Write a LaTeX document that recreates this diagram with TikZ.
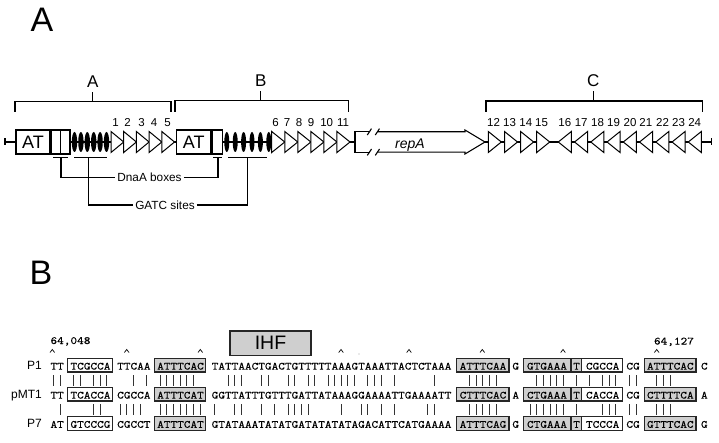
\documentclass[tikz,border=0pt]{standalone}
\usepackage{fontspec}
\newfontfamily\arial{Liberation Sans}
\newfontfamily\seqf{lmmono10-regular.otf}[FakeStretch=1.153,FakeBold=0.3]
\newcommand\seqbars[4]{\foreach \k in {#4}{\pgfmathsetmacro\bx{#1+(\k-0.5)*6.657}\draw[bar] (\bx,#2) -- (\bx,#3);}}
\newcommand\rowboxes[2]{%
 \draw[wbox] (67.7,#1) rectangle (112.7,#2);
 \draw[gbox] (154.5,#1) rectangle (205.7,#2);
 \draw[gbox] (456.7,#1) rectangle (509,#2);
 \draw[gbox] (523.3,#1) rectangle (571,#2);
 \draw[gbox] (571,#1) rectangle (581.7,#2);
 \draw[wbox] (581.7,#1) rectangle (622.7,#2);
 \draw[gbox] (644.3,#1) rectangle (696,#2);}
\begin{document}
\begin{tikzpicture}[x=1pt,y=-1pt,
  ln/.style={line width=1.1pt},
  gbox/.style={draw=black!85, line width=1.2pt, fill=gray!38},
  wbox/.style={draw=black!85, line width=1.2pt, fill=white},
  bar/.style={line width=1pt, black!80},
  tri/.style={draw, line width=1pt, fill=white, line join=miter},
  seq/.style={anchor=base west, inner sep=0pt, font=\seqf\fontsize{11}{13}\selectfont},
  lab/.style={anchor=base east, inner sep=0pt, font=\arial\fontsize{12}{14}\selectfont},
  num/.style={anchor=base, inner sep=0pt, font=\arial\fontsize{11.5}{13}\selectfont},
  big/.style={anchor=base west, inner sep=0pt, font=\arial\fontsize{34}{40}\selectfont},
  brl/.style={anchor=base, inner sep=0pt, font=\arial\fontsize{17}{20}\selectfont},
  call/.style={inner sep=2pt, font=\arial\fontsize{11.8}{13}\selectfont},
]
\useasboundingbox (0,0) rectangle (719,443);

% ---------------- panel letters
\node[big] (pA) at (30.5,31.7) {A};
\node[big] (pB) at (29.5,284.2) {B};

% ---------------- panel A
\draw[ln] (5,138.5) -- (5,145.5);
\draw[ln] (5,142) -- (355,142);
\draw[ln] (485,142) -- (711.7,142);
\draw[ln] (711.7,138.5) -- (711.7,145.5);

\draw[ln,fill=white] (16,130) rectangle (50,154);
\node[font=\arial\fontsize{18}{20}\selectfont, inner sep=0pt] (at1) at (33,142.5) {AT};
\draw[ln,fill=white] (51.5,130) rectangle (60.5,154);
\draw[ln,fill=white] (60.5,130) rectangle (70,154);
\foreach \i in {0,...,5} \fill (74.5+\i*6.4,142) ellipse [x radius=2.7, y radius=10];
\foreach \b in {111,123.7,136.4,149.1,161.8} \draw[tri] (\b,131.5) -- (\b+12.7,142) -- (\b,152.5) -- cycle;

\draw[ln,fill=white] (176.7,130) rectangle (211,154);
\node[font=\arial\fontsize{18}{20}\selectfont, inner sep=0pt] (at2) at (193.8,142.5) {AT};
\draw[ln,fill=white] (212.3,130) rectangle (222.7,154);
\foreach \i in {0,...,5} \fill (226.8+\i*8.4,142) ellipse [x radius=2.5, y radius=10];
\foreach \b in {271.7,284.75,297.8,310.85,323.9,336.95} \draw[tri] (\b,131.5) -- (\b+13.05,142) -- (\b,152.5) -- cycle;

% repA arrow
\draw[ln,fill=white] (369.5,131.8) -- (355,131.8) -- (355,152.2) -- (369.5,152.2);
\draw[ln] (367.3,135) -- (371.5,128.6);
\draw[ln] (367.3,155.4) -- (371.5,149);
\draw[ln] (375.3,135) -- (379.5,128.6);
\draw[ln] (375.3,155.4) -- (379.5,149);
\draw[ln,line join=miter] (377.5,131.8) -- (465,131.8) -- (465,130) -- (485,142) -- (465,154) -- (465,152.2) -- (377.5,152.2);
\node[anchor=base, inner sep=0pt, font=\arial\itshape\fontsize{14}{16}\selectfont] (repA) at (410,148.5) {repA};

\foreach \b in {488.3,504.5,520.6,536.7} \draw[tri] (\b,131.5) -- (\b+13,142) -- (\b,152.5) -- cycle;
\foreach \t in {558.3,574.55,590.8,607.05,623.3,639.55,655.8,672.05,688.3} \draw[tri] (\t+13,131.5) -- (\t,142) -- (\t+13,152.5) -- cycle;

% numbers
\foreach \x/\n in {115.5/1,127.5/2,141.5/3,154/4,167.5/5,275.5/6,287/7,299/8,311/9,326.7/10,343/11,
  493.5/12,509.5/13,525.8/14,541.5/15,564.8/16,581.2/17,597.5/18,613.5/19,630/20,645.8/21,662.5/22,678.5/23,694.7/24}
  \node[num] at (\x,126.6) {\n};

% brackets
\draw[ln] (15,111.7) -- (15,101.7) -- (171,101.7) -- (171,111.7);
\draw[ln] (92.7,101.7) -- (92.7,91.7);
\node[brl] (bA) at (92.7,87.5) {A};
\draw[ln] (175,111.7) -- (175,100.9) -- (348.3,100.9) -- (348.3,111.7);
\draw[ln] (260.7,100.9) -- (260.7,91.2);
\node[brl] (bB) at (260.7,87) {B};
\draw[ln] (486,111.7) -- (486,101) -- (702.7,101) -- (702.7,111.7);
\draw[ln] (593.3,101) -- (593.3,91.2);
\node[brl] (bC) at (593.3,87) {C};

% callouts
\draw[ln] (53,157.7) -- (68,157.7);
\draw[ln] (74,157.7) -- (107,157.7);
\draw[ln] (213,157.7) -- (222,157.7);
\draw[ln] (228.3,157.7) -- (267.3,157.7);
\node[call] (dna) at (149.5,177.7) {DnaA boxes};
\draw[ln] (61,157.7) -- (61,177.7) -- (dna.west);
\draw[ln] (dna.east) -- (218,177.7) -- (218,157.7);
\node[call] (gatc) at (165,205) {GATC sites};
\draw[ln] (88.3,157.7) -- (88.3,205) -- (gatc.west);
\draw[ln] (gatc.east) -- (247.3,205) -- (247.3,157.7);

% ---------------- panel B
\draw[line width=1.2pt, draw=black!85, fill=gray!38] (230,331) rectangle (311,355.5);
\node[anchor=base, inner sep=0pt, font=\arial\fontsize{19.5}{22}\selectfont] (ihf) at (270.5,349.3) {IHF};

\node[seq] (n1) at (50.3,344) {64,048};
\node[seq] (n2) at (653.8,344.5) {64,127};
\foreach \x in {52.3,126.7,200.3,341,409,482.3,563,656.7}
  \draw[line width=0.7pt] (\x-2.3,352.5) -- (\x,349.5) -- (\x+2.3,352.5);
\fill (359,354) circle [radius=0.45];

\rowboxes{358.6}{372.0}
\rowboxes{387.6}{401.0}
\rowboxes{416.8}{430.2}

\node[lab] (P1) at (42,369.4) {P1};
\node[lab] (pMT1) at (42,398.4) {pMT1};
\node[lab] (P7) at (42,427.6) {P7};

\foreach \x/\t in {50.3/TT,70.3/TCGCCA,117.0/TTCAA,157.0/ATTTCAC,211.5/TATTAACTGACTGTTTTTAAAGTAAATTACTCTAAA,
  459.5/ATTTCAA,512.2/G,526.8/GTGAAA,573.0/T,585.8/CGCCA,626.2/CG,646.8/ATTTCAC,700.8/C}
  \node[seq] at (\x,369.6) {\t};
\foreach \x/\t in {50.3/TT,70.3/TCACCA,117.0/CGCCA,157.0/ATTTCAT,211.5/GGTTATTTGTTTGATTATAAAGGAAAATTGAAAATT,
  459.5/CTTTCAC,512.2/A,526.8/CTGAAA,573.0/T,585.8/CACCA,626.2/CG,646.8/CTTTTCA,700.8/A}
  \node[seq] at (\x,398.6) {\t};
\foreach \x/\t in {50.3/AT,70.3/GTCCCG,117.0/CGCCT,157.0/ATTTCAT,211.5/GTATAAATATATGATATATATAGACATTCATGAAAA,
  459.5/ATTTCAG,512.2/G,526.8/CTGAAA,573.0/T,585.8/TCCCA,626.2/CG,646.8/GTTTCAC,700.8/G}
  \node[seq] at (\x,427.8) {\t};

% match bars P1 / pMT1
\seqbars{50.3}{375.2}{385.9}{1,2}
\seqbars{70.3}{375.2}{385.9}{1,2,4,5,6}
\seqbars{117.0}{375.2}{385.9}{3,5}
\seqbars{157.0}{375.2}{385.9}{1,...,6}
\seqbars{211.5}{375.2}{385.9}{3,4,5,8,9,12,13,15,16,18,19,20,21,22,24,25,26,28,34}
\seqbars{459.5}{375.2}{385.9}{2,...,6}
\seqbars{526.8}{375.2}{385.9}{2,...,6}
\seqbars{573.0}{375.2}{385.9}{1}
\seqbars{585.8}{375.2}{385.9}{1,3,4,5}
\seqbars{626.2}{375.2}{385.9}{1,2}
\seqbars{646.8}{375.2}{385.9}{2,3,4}
% match bars pMT1 / P7
\seqbars{50.3}{404.4}{415.1}{2}
\seqbars{70.3}{404.4}{415.1}{4,5}
\seqbars{117.0}{404.4}{415.1}{1,2,3,4}
\seqbars{157.0}{404.4}{415.1}{1,...,7}
\seqbars{211.5}{404.4}{415.1}{1,4,5,8,10,12,13,14,15,20,23,24,26,28,33,34}
\seqbars{459.5}{404.4}{415.1}{2,...,6}
\seqbars{526.8}{404.4}{415.1}{1,...,6}
\seqbars{573.0}{404.4}{415.1}{1}
\seqbars{585.8}{404.4}{415.1}{3,4,5}
\seqbars{626.2}{404.4}{415.1}{1,2}
\seqbars{646.8}{404.4}{415.1}{2,3,4}
\end{tikzpicture}
\end{document}
